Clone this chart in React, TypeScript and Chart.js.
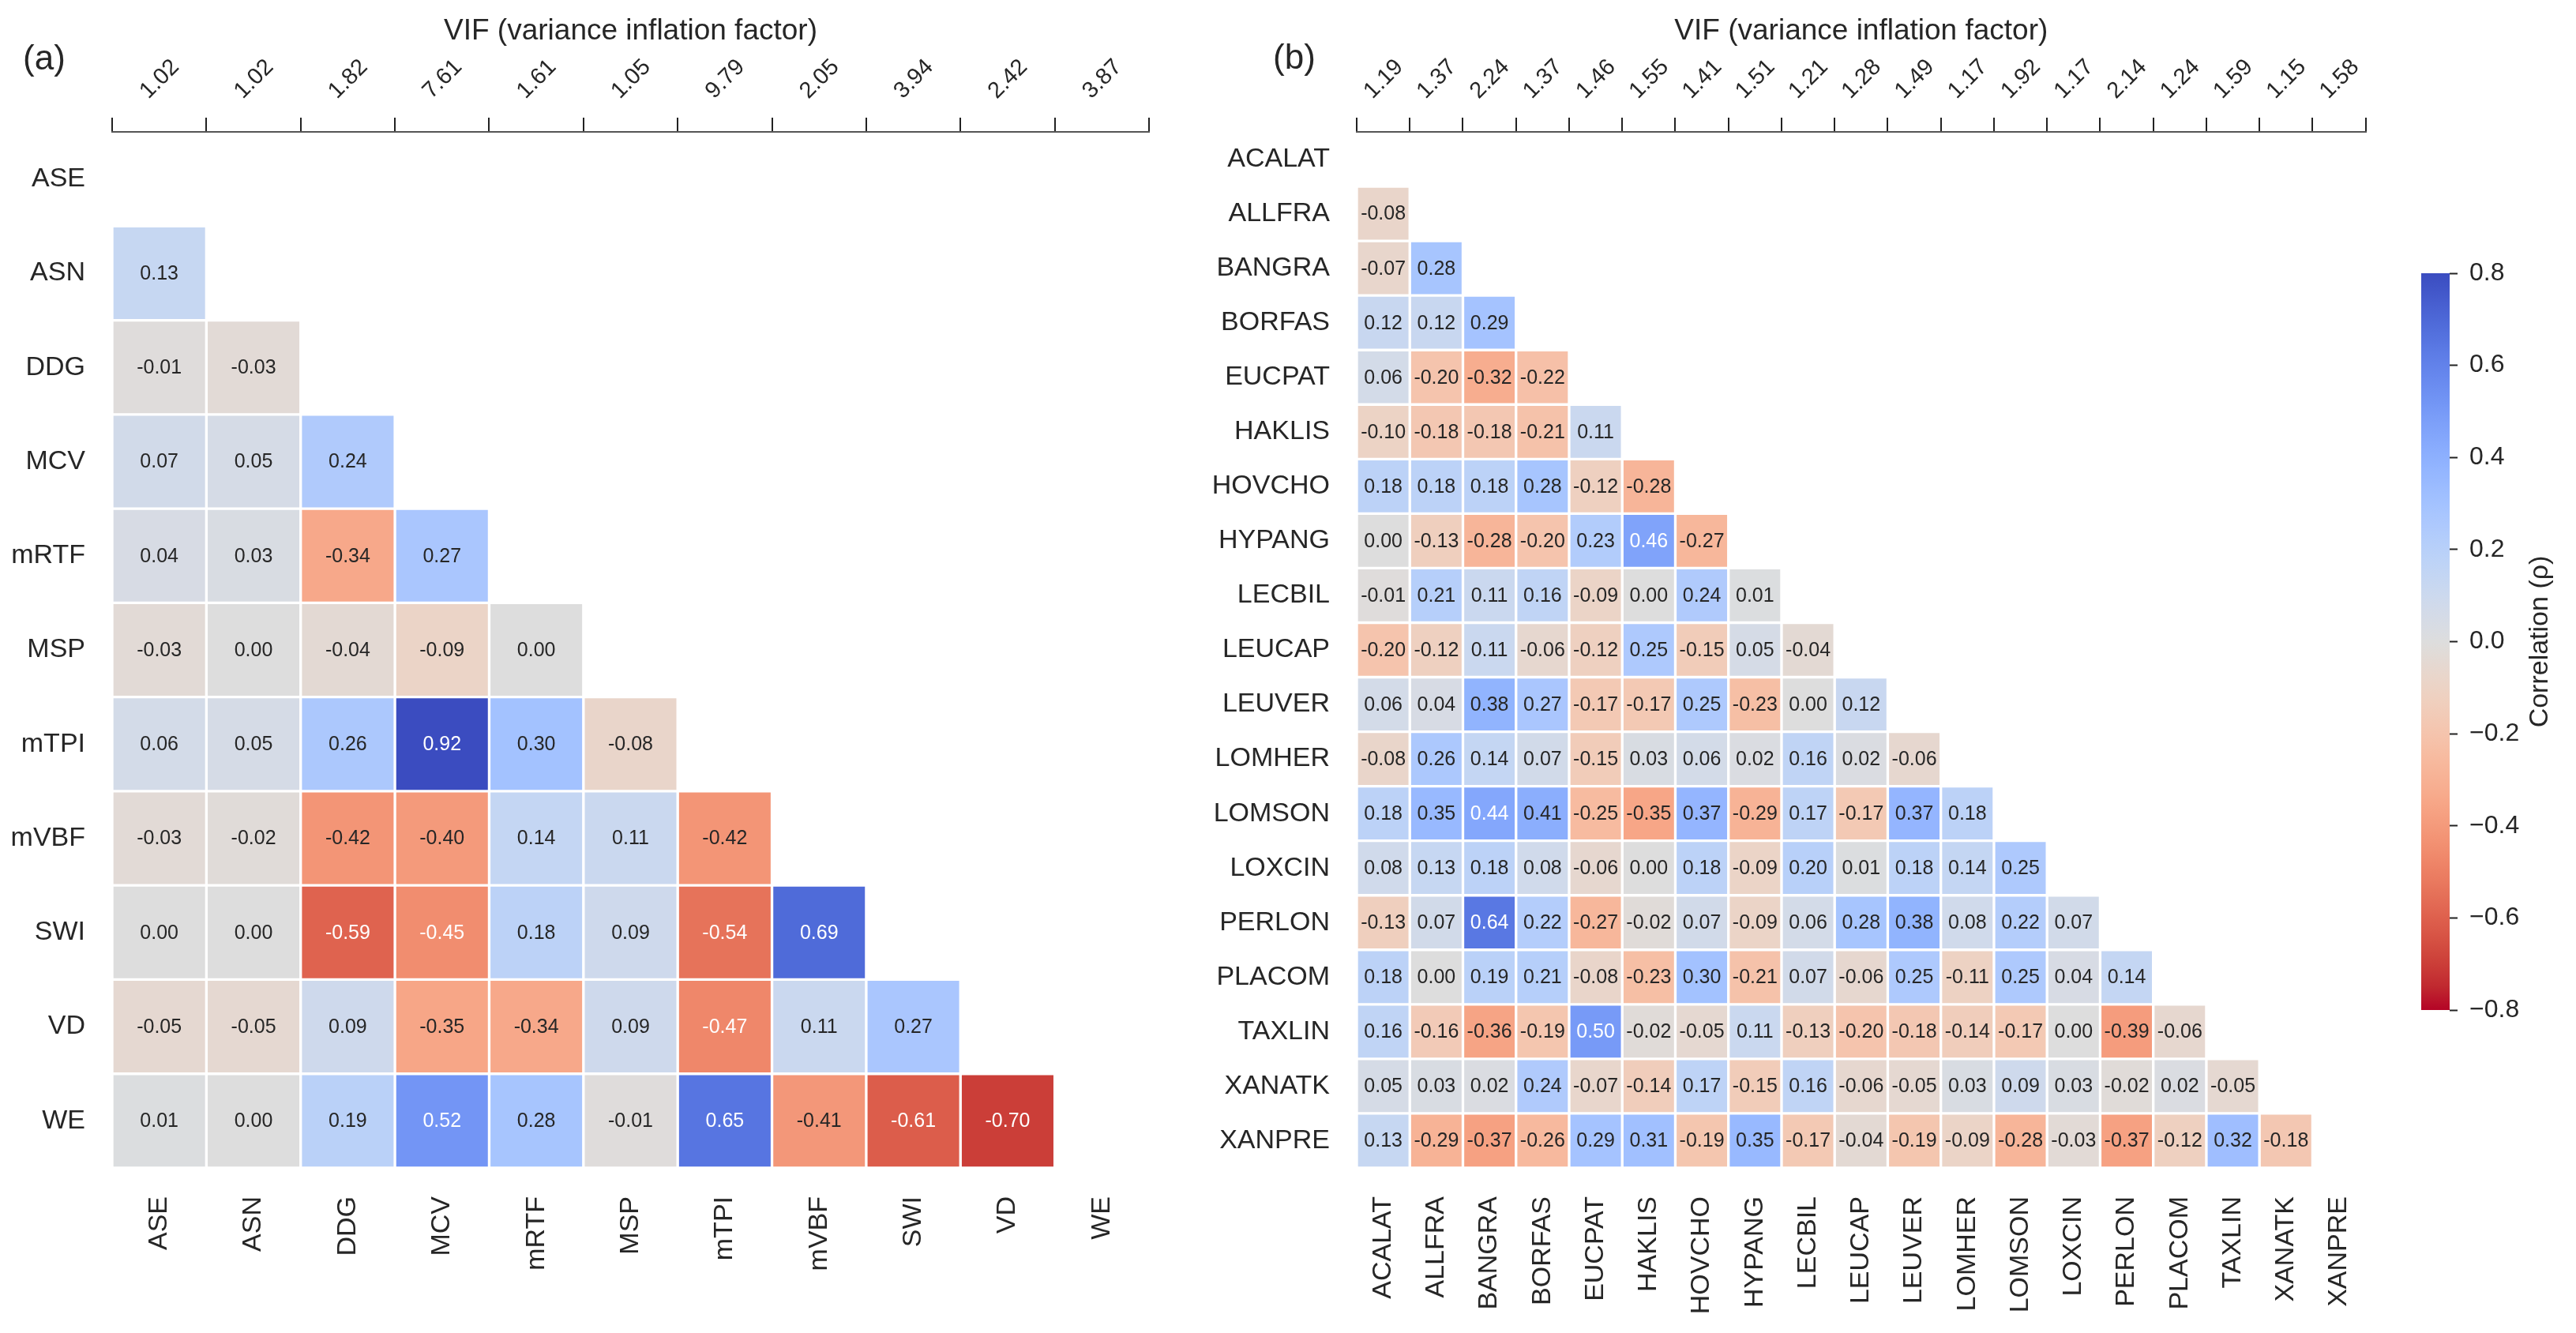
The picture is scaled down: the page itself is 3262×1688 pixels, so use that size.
import React, { useEffect, useRef } from 'react';
import { Chart, registerables } from 'chart.js';

Chart.register(...registerables);

// ---------------- data ----------------
const colsA = ['ASE', 'ASN', 'DDG', 'MCV', 'mRTF', 'MSP', 'mTPI', 'mVBF', 'SWI', 'VD', 'WE'];
const vifA = ['1.02', '1.02', '1.82', '7.61', '1.61', '1.05', '9.79', '2.05', '3.94', '2.42', '3.87'];
const corrA: number[][] = [
  [],
  [0.13],
  [-0.01, -0.03],
  [0.07, 0.05, 0.24],
  [0.04, 0.03, -0.34, 0.27],
  [-0.03, 0.0, -0.04, -0.09, 0.0],
  [0.06, 0.05, 0.26, 0.92, 0.3, -0.08],
  [-0.03, -0.02, -0.42, -0.4, 0.14, 0.11, -0.42],
  [0.0, 0.0, -0.59, -0.45, 0.18, 0.09, -0.54, 0.69],
  [-0.05, -0.05, 0.09, -0.35, -0.34, 0.09, -0.47, 0.11, 0.27],
  [0.01, 0.0, 0.19, 0.52, 0.28, -0.01, 0.65, -0.41, -0.61, -0.7],
];

const colsB = ['ACALAT', 'ALLFRA', 'BANGRA', 'BORFAS', 'EUCPAT', 'HAKLIS', 'HOVCHO', 'HYPANG', 'LECBIL', 'LEUCAP',
  'LEUVER', 'LOMHER', 'LOMSON', 'LOXCIN', 'PERLON', 'PLACOM', 'TAXLIN', 'XANATK', 'XANPRE'];
const vifB = ['1.19', '1.37', '2.24', '1.37', '1.46', '1.55', '1.41', '1.51', '1.21', '1.28', '1.49', '1.17', '1.92',
  '1.17', '2.14', '1.24', '1.59', '1.15', '1.58'];
const corrB: number[][] = [
  [],
  [-0.08],
  [-0.07, 0.28],
  [0.12, 0.12, 0.29],
  [0.06, -0.2, -0.32, -0.22],
  [-0.1, -0.18, -0.18, -0.21, 0.11],
  [0.18, 0.18, 0.18, 0.28, -0.12, -0.28],
  [0.0, -0.13, -0.28, -0.2, 0.23, 0.46, -0.27],
  [-0.01, 0.21, 0.11, 0.16, -0.09, 0.0, 0.24, 0.01],
  [-0.2, -0.12, 0.11, -0.06, -0.12, 0.25, -0.15, 0.05, -0.04],
  [0.06, 0.04, 0.38, 0.27, -0.17, -0.17, 0.25, -0.23, 0.0, 0.12],
  [-0.08, 0.26, 0.14, 0.07, -0.15, 0.03, 0.06, 0.02, 0.16, 0.02, -0.06],
  [0.18, 0.35, 0.44, 0.41, -0.25, -0.35, 0.37, -0.29, 0.17, -0.17, 0.37, 0.18],
  [0.08, 0.13, 0.18, 0.08, -0.06, 0.0, 0.18, -0.09, 0.2, 0.01, 0.18, 0.14, 0.25],
  [-0.13, 0.07, 0.64, 0.22, -0.27, -0.02, 0.07, -0.09, 0.06, 0.28, 0.38, 0.08, 0.22, 0.07],
  [0.18, 0.0, 0.19, 0.21, -0.08, -0.23, 0.3, -0.21, 0.07, -0.06, 0.25, -0.11, 0.25, 0.04, 0.14],
  [0.16, -0.16, -0.36, -0.19, 0.5, -0.02, -0.05, 0.11, -0.13, -0.2, -0.18, -0.14, -0.17, 0.0, -0.39, -0.06],
  [0.05, 0.03, 0.02, 0.24, -0.07, -0.14, 0.17, -0.15, 0.16, -0.06, -0.05, 0.03, 0.09, 0.03, -0.02, 0.02, -0.05],
  [0.13, -0.29, -0.37, -0.26, 0.29, 0.31, -0.19, 0.35, -0.17, -0.04, -0.19, -0.09, -0.28, -0.03, -0.37, -0.12, 0.32, -0.18],
];

const colorMin = -0.8;
const colorMax = 0.8;
const colorbarTicks = [-0.8, -0.6, -0.4, -0.2, 0.0, 0.2, 0.4, 0.6, 0.8];

// ---------------- style ----------------
const FONT = "'Liberation Sans', Arial, Helvetica, sans-serif";
const INK = '#262626';
const W = 3262;
const H = 1688;
const TOP_TICK_FONT = 29;
const TOP_TICK_GAP = 22; // gap between tick-mark top and rotated label box

// matplotlib "coolwarm" (Moreland) control points; used reversed
const COOLWARM: number[][] = [
  [59, 76, 192], [68, 90, 204], [77, 104, 215], [87, 117, 225], [98, 130, 234], [108, 142, 241],
  [119, 154, 247], [130, 165, 251], [141, 176, 254], [152, 185, 255], [163, 194, 255], [174, 201, 253],
  [184, 208, 249], [194, 213, 244], [204, 217, 238], [213, 219, 230], [221, 221, 221], [229, 216, 209],
  [236, 211, 197], [241, 204, 185], [245, 196, 173], [247, 187, 160], [247, 177, 148], [247, 166, 135],
  [244, 154, 123], [241, 141, 111], [236, 127, 99], [229, 112, 88], [222, 96, 77], [213, 80, 66],
  [203, 62, 56], [192, 40, 47], [180, 4, 38],
];

function coolwarm(t: number): number[] {
  const tt = Math.min(1, Math.max(0, t)) * (COOLWARM.length - 1);
  const i = Math.min(COOLWARM.length - 2, Math.floor(tt));
  const f = tt - i;
  const a = COOLWARM[i];
  const b = COOLWARM[i + 1];
  return [0, 1, 2].map((k) => a[k] + (b[k] - a[k]) * f);
}
function cellRGB(v: number): number[] {
  const t = (v - colorMin) / (colorMax - colorMin);
  return coolwarm(1 - t); // reversed: positive = blue
}
function rgbStr(c: number[]): string {
  return `rgb(${Math.round(c[0])},${Math.round(c[1])},${Math.round(c[2])})`;
}
function luminance(c: number[]): number {
  const lin = c.map((x) => {
    const s = x / 255;
    return s <= 0.03928 ? s / 12.92 : Math.pow((s + 0.055) / 1.055, 2.4);
  });
  return 0.2126 * lin[0] + 0.7152 * lin[1] + 0.0722 * lin[2];
}
function textColor(v: number): string {
  return luminance(cellRGB(v)) > 0.408 ? INK : '#ffffff';
}

type Geom = { canvasLeft: number; canvasWidth: number; areaLeft: number; areaRight: number; areaTop: number; areaBottom: number };
const GEOM_A: Geom = { canvasLeft: 0, canvasWidth: 1500, areaLeft: 142, areaRight: 1455, areaTop: 167, areaBottom: 1479 };
const GEOM_B: Geom = { canvasLeft: 1510, canvasWidth: 1530, areaLeft: 1718, areaRight: 3030, areaTop: 167, areaBottom: 1479 };
const GEOM_CB = { canvasLeft: 3040, canvasWidth: 222, areaLeft: 3066, areaRight: 3102, areaTop: 346, areaBottom: 1279 };

const annotatePlugin = {
  id: 'annotateCells',
  afterDatasetsDraw(chart: any) {
    const { ctx } = chart;
    ctx.save();
    ctx.font = `25px ${FONT}`;
    ctx.textAlign = 'center';
    ctx.textBaseline = 'middle';
    chart.data.datasets.forEach((ds: any, i: number) => {
      const meta = chart.getDatasetMeta(i);
      meta.data.forEach((el: any, j: number) => {
        const v = ds.values[j];
        if (v === undefined || v === null) return;
        const p = el.getCenterPoint();
        if (!isFinite(p.x) || !isFinite(p.y)) return;
        ctx.fillStyle = textColor(v);
        ctx.fillText(v.toFixed(2), p.x, p.y + 1);
      });
    });
    ctx.restore();
  },
};

// Top-axis (VIF) tick labels, rotated 45 deg with their bounding box centred on each tick
const topTickLabelsPlugin = {
  id: 'topTickLabels',
  afterDraw(chart: any) {
    const s = chart.scales.x2;
    if (!s) return;
    const { ctx } = chart;
    const labels: string[] = s.getLabels();
    const tickLen = s.options.grid.tickLength;
    const bottomY = s.bottom - tickLen - TOP_TICK_GAP;
    const h = TOP_TICK_FONT * 0.72;
    ctx.save();
    ctx.font = `${TOP_TICK_FONT}px ${FONT}`;
    ctx.fillStyle = INK;
    ctx.textAlign = 'center';
    ctx.textBaseline = 'middle';
    labels.forEach((lab, i) => {
      const x = s.getPixelForTick(i);
      const L = ctx.measureText(lab).width;
      const box = (L + h) * Math.SQRT1_2;
      ctx.save();
      ctx.translate(x, bottomY - box / 2);
      ctx.rotate(-Math.PI / 4);
      ctx.fillText(lab, 0, 1);
      ctx.restore();
    });
    ctx.restore();
  },
};

function heatmapConfig(cols: string[], vif: string[], corr: number[][], g: Geom): any {
  const n = cols.length;
  const datasets = corr.map((row, r) => ({
    label: cols[r],
    values: row,
    data: cols.map((_, j) => (j < row.length ? [r - 0.5, r + 0.5] : null)),
    backgroundColor: (c: any) => rgbStr(cellRGB(row[c.dataIndex] ?? 0)),
    borderColor: '#ffffff',
    borderWidth: 2,
    borderSkipped: false,
    grouped: false,
    barPercentage: 1,
    categoryPercentage: 1,
  }));
  return {
    type: 'bar',
    data: { labels: cols, datasets },
    plugins: [annotatePlugin, topTickLabelsPlugin],
    options: {
      animation: false,
      responsive: false,
      devicePixelRatio: 1,
      layout: { padding: { left: 0, top: 0, bottom: 0, right: g.canvasLeft + g.canvasWidth - g.areaRight } },
      plugins: { legend: { display: false }, tooltip: { enabled: false } },
      scales: {
        x: {
          type: 'category',
          position: 'bottom',
          offset: true,
          grid: { display: false, drawTicks: false },
          border: { display: false },
          ticks: { autoSkip: false, minRotation: 90, maxRotation: 90, padding: 36, color: INK, font: { size: 34, family: FONT } },
          afterCalculateLabelRotation: (s: any) => { s.labelRotation = 90; },
          afterFit: (s: any) => { s.height = H - g.areaBottom; },
        },
        x2: {
          type: 'category',
          position: 'top',
          labels: vif,
          offset: true,
          grid: { display: true, drawOnChartArea: false, drawTicks: true, tickLength: 18, tickWidth: 2, tickColor: '#222', color: '#222', lineWidth: 2 },
          border: { display: true, color: '#555', width: 2 },
          ticks: { display: false, autoSkip: false },
          title: { display: true, text: 'VIF (variance inflation factor)', color: INK, font: { size: 37, family: FONT }, padding: { top: 18, bottom: 0 } },
          afterFit: (s: any) => { s.height = g.areaTop; },
        },
        y: {
          type: 'linear',
          min: -0.5,
          max: n - 0.5,
          reverse: true,
          afterBuildTicks: (s: any) => { s.ticks = cols.map((_, i) => ({ value: i })); },
          grid: { display: false, drawTicks: false },
          border: { display: false },
          ticks: { autoSkip: false, padding: 34, color: INK, font: { size: 34, family: FONT }, callback: (v: any) => cols[v] },
          afterFit: (s: any) => { s.width = g.areaLeft - g.canvasLeft; },
        },
      },
    },
  };
}

const colorbarTitlePlugin = {
  id: 'colorbarTitle',
  afterDraw(chart: any) {
    const { ctx, chartArea } = chart;
    ctx.save();
    ctx.translate(chartArea.right + 115, (chartArea.top + chartArea.bottom) / 2);
    ctx.rotate(-Math.PI / 2);
    ctx.font = `34px ${FONT}`;
    ctx.fillStyle = INK;
    ctx.textAlign = 'center';
    ctx.textBaseline = 'middle';
    ctx.fillText('Correlation (ρ)', 0, 0);
    ctx.restore();
  },
};

function colorbarConfig(): any {
  const g = GEOM_CB;
  return {
    type: 'bar',
    data: {
      labels: ['colorbar'],
      datasets: [{
        data: [[colorMin, colorMax]],
        borderWidth: 0,
        barPercentage: 1,
        categoryPercentage: 1,
        backgroundColor: (c: any) => {
          const ys = c.chart.scales && c.chart.scales.y;
          if (!ys) return '#dddddd';
          const y0 = ys.getPixelForValue(colorMin);
          const y1 = ys.getPixelForValue(colorMax);
          if (!isFinite(y0) || !isFinite(y1) || y0 === y1) return '#dddddd';
          const grad = c.chart.ctx.createLinearGradient(0, y0, 0, y1);
          const steps = 64;
          for (let k = 0; k <= steps; k++) {
            grad.addColorStop(k / steps, rgbStr(cellRGB(colorMin + (k / steps) * (colorMax - colorMin))));
          }
          return grad;
        },
      }],
    },
    plugins: [colorbarTitlePlugin],
    options: {
      animation: false,
      responsive: false,
      devicePixelRatio: 1,
      layout: { padding: { left: g.areaLeft - g.canvasLeft, right: 0, top: g.areaTop, bottom: H - g.areaBottom } },
      plugins: { legend: { display: false }, tooltip: { enabled: false } },
      scales: {
        x: { type: 'category', display: false },
        y: {
          type: 'linear',
          position: 'right',
          min: colorMin,
          max: colorMax,
          afterBuildTicks: (s: any) => { s.ticks = colorbarTicks.map((v) => ({ value: v })); },
          grid: { display: true, drawOnChartArea: false, drawTicks: true, tickLength: 10, tickWidth: 2, tickColor: '#222' },
          border: { display: false },
          ticks: {
            padding: 15,
            color: INK,
            font: { size: 32, family: FONT },
            callback: (v: any) => (v < -1e-9 ? '\u2212' : '') + Math.abs(v).toFixed(1),
          },
          afterFit: (s: any) => { s.width = g.canvasLeft + g.canvasWidth - g.areaRight; },
        },
      },
    },
  };
}

export default function App() {
  const refA = useRef<HTMLCanvasElement>(null);
  const refB = useRef<HTMLCanvasElement>(null);
  const refC = useRef<HTMLCanvasElement>(null);

  useEffect(() => {
    Chart.defaults.font.family = FONT;
    Chart.defaults.color = INK;
    const charts: Chart[] = [];
    const make = (el: HTMLCanvasElement | null, cfg: any) => {
      if (!el) return;
      try {
        const c = new Chart(el, cfg);
        charts.push(c);
        c.update();
      } catch (e) {
        console.error(e);
      }
    };
    make(refA.current, heatmapConfig(colsA, vifA, corrA, GEOM_A));
    make(refB.current, heatmapConfig(colsB, vifB, corrB, GEOM_B));
    make(refC.current, colorbarConfig());
    return () => charts.forEach((c) => c.destroy());
  }, []);

  const canvasStyle = (left: number, width: number): React.CSSProperties => ({
    position: 'absolute', left, top: 0, width, height: H, display: 'block',
  });
  const letter = (x: number, y: number): React.CSSProperties => ({
    position: 'absolute', left: x, top: y, transform: 'translate(-50%, -50%)', fontFamily: FONT,
    fontSize: 44, lineHeight: 1, color: INK, whiteSpace: 'nowrap',
  });

  return (
    <div style={{ position: 'absolute', left: 0, top: 0, width: W, height: H, background: '#ffffff', overflow: 'hidden' }}>
      <canvas ref={refA} width={GEOM_A.canvasWidth} height={H} style={canvasStyle(GEOM_A.canvasLeft, GEOM_A.canvasWidth)} />
      <canvas ref={refB} width={GEOM_B.canvasWidth} height={H} style={canvasStyle(GEOM_B.canvasLeft, GEOM_B.canvasWidth)} />
      <canvas ref={refC} width={GEOM_CB.canvasWidth} height={H} style={canvasStyle(GEOM_CB.canvasLeft, GEOM_CB.canvasWidth)} />
      <div style={letter(56, 73)}>(a)</div>
      <div style={letter(1639, 72)}>(b)</div>
    </div>
  );
}
